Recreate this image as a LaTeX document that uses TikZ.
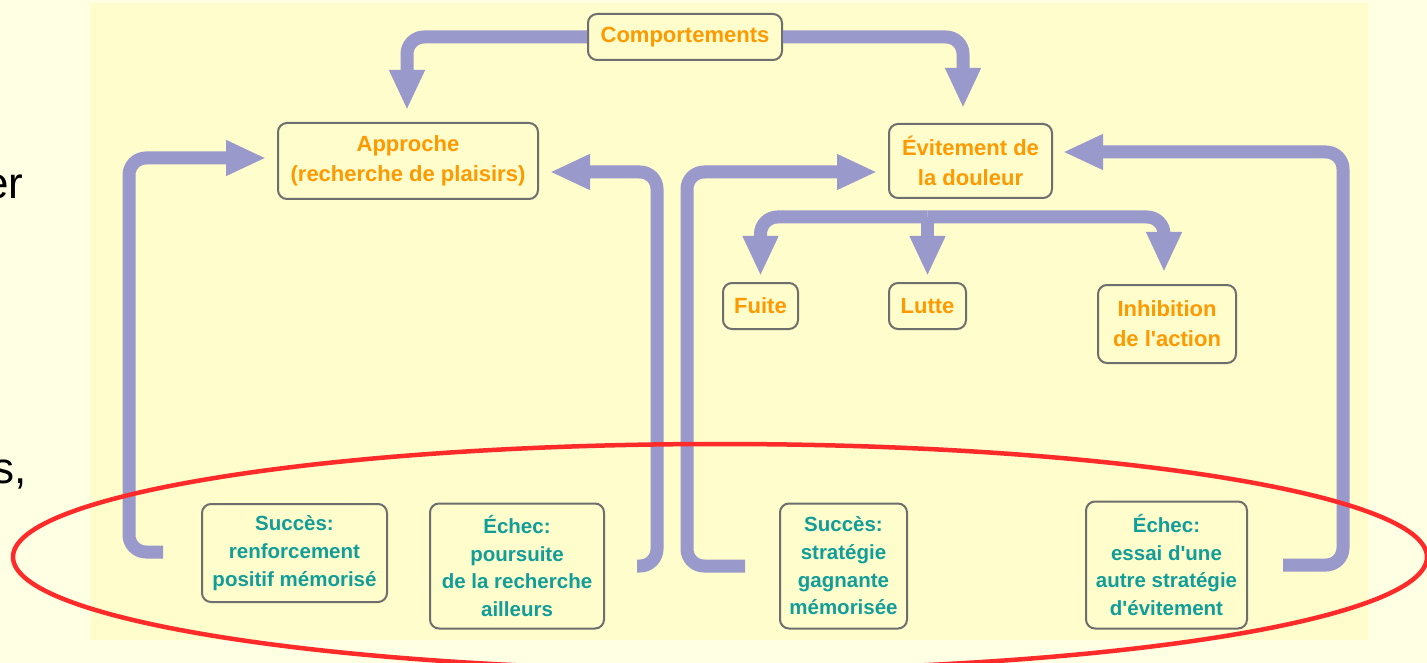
\documentclass[tikz,border=0pt]{standalone}
\usepackage{fontspec}
\setmainfont{Liberation Sans}
\usetikzlibrary{arrows.meta}

\definecolor{mPaper}{HTML}{FFFFE3}
\definecolor{mPanel}{HTML}{FFFDCC}
\definecolor{mLavender}{HTML}{9999CC}
\definecolor{mOrange}{HTML}{FF9900}
\definecolor{mTeal}{HTML}{119E99}
\definecolor{mFrame}{HTML}{6E6E6E}
\definecolor{mRed}{HTML}{FF2A2A}

\tikzset{
  box/.style={draw=mFrame, line width=2pt, rounded corners=9pt, fill=mPanel, align=center, inner sep=0pt},
  action/.style={box, text=mOrange, font=\bfseries\fontsize{22}{30}\selectfont},
  outcome/.style={box, text=mTeal, font=\bfseries\fontsize{20.5}{27.7}\selectfont},
  flow/.style={mLavender, line width=13pt, rounded corners=17pt, -{Triangle[length=40pt,width=33pt]}},
}

\begin{document}
\begin{tikzpicture}[x=1pt, y=-1pt]

\useasboundingbox (0,0) rectangle (1427,663);
\fill[mPaper] (0,0) rectangle (1427,663);
\fill[mPanel] (90,3) rectangle (1368,640);

\node[anchor=base east, font=\fontsize{44}{50}\selectfont] (er) at (27,199) {er};
\node[anchor=base east, font=\fontsize{44}{50}\selectfont] (sc) at (30,483) {s,};

\node[action, minimum width=194pt, minimum height=46pt] (comp) at (685,37) {Comportements};
\node[action, minimum width=260pt, minimum height=76pt] (appr) at (408,161) {Approche\\(recherche de plaisirs)};
\node[action, minimum width=163pt, minimum height=74pt] (evit) at (970.5,161) {Évitement de\\la douleur};

\node[action, minimum width=75pt, minimum height=46pt] (fuite) at (760.5,306) {Fuite};
\node[action, minimum width=77pt, minimum height=46pt] (lutte) at (927.5,306) {Lutte};
\node[action, minimum width=138pt, minimum height=78pt] (inhib) at (1167,324) {Inhibition\\de l\textquotesingle action};

\node[outcome, minimum width=185pt, minimum height=98pt] (succ1) at (294.5,553) {Succès:\\renforcement\\positif mémorisé};
\node[outcome, minimum width=174pt, minimum height=125pt] (ech1) at (517,566) {Échec:\\poursuite\\de la recherche\\ailleurs};
\node[outcome, minimum width=127pt, minimum height=125pt] (succ2) at (843.5,566) {Succès:\\stratégie\\gagnante\\mémorisée};
\node[outcome, minimum width=161pt, minimum height=127pt] (ech2) at (1166.5,565) {Échec:\\essai d\textquotesingle une\\autre stratégie\\d\textquotesingle évitement};

\coordinate (bar) at (927.5,217);

\draw[flow] (comp.west) -| ([xshift=-1pt,yshift=12pt]appr.north);
\draw[flow] (comp.east) -| ([xshift=-7.5pt,yshift=15pt]evit.north);

\draw[flow] (bar) -| ([yshift=6pt]fuite.north);
\draw[flow] (bar) -- ([yshift=6pt]lutte.north);
\draw[flow] (bar) -| ([xshift=-3pt,yshift=12pt]inhib.north);

\draw[flow] ([xshift=-38pt,yshift=1pt]succ1.west) -- ++(-34,0) |- ([xshift=-11pt,yshift=3pt]appr.west);
\draw[flow] ([xshift=32pt]ech1.east) -- ++(20,0) |- ([xshift=11pt,yshift=-11pt]appr.east);
\draw[flow] ([xshift=-34pt]succ2.west) -- ++(-58,0) |- ([xshift=-11pt,yshift=-11pt]evit.west);
\draw[flow] ([xshift=35pt]ech2.east) -- ++(60,0) |- ([xshift=10pt,yshift=9pt]evit.east);

\draw[mRed, line width=4.5pt] (720,557) ellipse [x radius=707, y radius=113];

\end{tikzpicture}
\end{document}
